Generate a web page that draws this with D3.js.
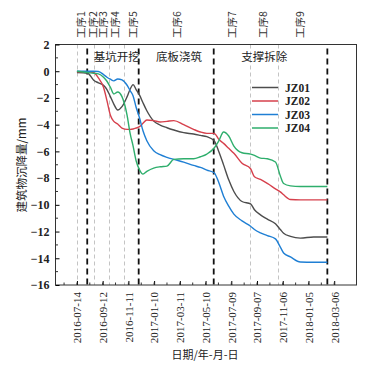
<!DOCTYPE html>
<html>
<head>
<meta charset="utf-8">
<script src="https://cdn.jsdelivr.net/npm/d3@7"></script>
<style>
    body { margin: 0; background: #fff; }
    svg text { font-family: "Liberation Serif", "Noto Sans CJK SC", serif; }
</style>
</head>
<body>
<div id="chart"></div>
<script>
// sample dates shared by the four monitoring points
var dates = ["2016-07-14", "2016-08-08", "2016-08-22", "2016-09-02", "2016-09-14", "2016-09-22",
    "2016-09-30", "2016-10-08", "2016-10-17", "2016-10-27", "2016-11-08", "2016-11-15",
    "2016-11-22", "2016-11-29", "2016-12-07", "2016-12-15", "2016-12-24", "2017-01-09",
    "2017-01-24", "2017-02-09", "2017-02-25", "2017-03-20", "2017-04-12", "2017-04-28",
    "2017-05-13", "2017-05-30", "2017-06-10", "2017-06-21", "2017-07-03", "2017-07-15",
    "2017-08-03", "2017-08-23", "2017-09-01", "2017-09-15", "2017-10-01", "2017-10-20",
    "2017-11-01", "2017-11-08", "2017-11-24", "2017-12-17", "2018-01-17", "2018-02-18"];

var jz01 = [-0.1, -0.15, -0.67, -0.87, -1.05, -1.37, -1.9, -2.46, -2.9, -2.65, -1.9, -1.35,
    -1.0, -1.37, -1.79, -2.36, -2.96, -3.73, -4.03, -4.23, -4.4, -4.6, -4.7, -4.8,
    -4.9, -5.2, -6.02, -7.01, -8.13, -9.0, -9.75, -9.93, -10.37, -10.75, -11.07, -11.42,
    -11.87, -12.12, -12.36, -12.49, -12.41, -12.41];
var jz02 = [-0.05, -0.05, -0.1, -0.5, -1.2, -2.2, -3.3, -3.75, -3.95, -4.25, -4.35, -4.35,
    -4.32, -4.25, -4.15, -3.9, -3.65, -3.7, -3.8, -3.75, -3.7, -4.0, -4.35, -4.55,
    -4.65, -4.65, -5.1, -5.4, -5.77, -6.14, -6.89, -7.3, -7.9, -8.1, -8.4, -8.8,
    -9.05, -9.25, -9.6, -9.63, -9.63, -9.63];
var jz03 = [0, 0, 0, -0.02, -0.25, -0.45, -0.6, -0.72, -0.58, -0.65, -1.05, -1.45,
    -1.85, -2.7, -3.5, -4.45, -5.2, -5.95, -6.25, -6.45, -6.6, -6.8, -7.05, -7.2,
    -7.4, -7.6, -8.35, -9.35, -10.1, -10.7, -11.2, -11.6, -11.85, -12.1, -12.3, -12.55,
    -13.2, -13.6, -13.9, -14.28, -14.3, -14.3];
var jz04 = [0, -0.1, -0.15, -0.2, -0.45, -0.75, -1.2, -1.7, -1.55, -1.9, -3.3, -4.65,
    -5.6, -6.7, -7.38, -7.7, -7.5, -7.25, -7.15, -7.1, -6.6, -6.55, -6.55, -6.4,
    -6.2, -5.75, -5.2, -4.55, -4.85, -5.6, -6.1, -6.2, -6.3, -6.5, -6.55, -6.8,
    -7.9, -8.4, -8.58, -8.63, -8.63, -8.63];

var seriesNames = ["JZ01", "JZ02", "JZ03", "JZ04"];
var seriesColors = ["#4d4d4d", "#d6404c", "#1f7fd4", "#2eae6c"];

// stage boundaries (heavy dashed) and process dates (light dashed)
var stageLines = ["2016-08-07", "2016-12-05", "2017-05-29", "2018-02-18"];
var processLines = ["2016-07-14", "2016-08-22", "2016-09-26", "2016-10-31", "2017-08-21", "2017-10-26"];
var stageNames = ["基坑开挖", "底板浇筑", "支撑拆除"];
var stageLabelDates = ["2016-10-15", "2017-03-09", "2017-09-24"];
var processNames = ["工序1", "工序2", "工序3", "工序4", "工序5", "工序6", "工序7", "工序8", "工序9"];
var processLabelDates = ["2016-07-24", "2016-08-21", "2016-09-13", "2016-10-11", "2016-11-22",
    "2017-03-05", "2017-07-12", "2017-09-22", "2017-12-17"];

var yTicks = [2, 0, -2, -4, -6, -8, -10, -12, -14, -16];

var width = 381, height = 368;
var margin = {left: 55.5, right: 24.5, top: 44.5, bottom: 83};
var parse = d3.utcParse("%Y-%m-%d");
var fmt = d3.utcFormat("%Y-%m-%d");

var svg = d3.select("#chart")
    .append("svg")
    .attr("width", width)
    .attr("height", height);

var x = d3.scaleUtc()
    .domain([parse("2016-05-25"), parse("2018-04-27")])
    .range([margin.left, width - margin.right]);
var y = d3.scaleLinear()
    .domain([-16, 2])
    .range([height - margin.bottom, margin.top]);

var x0 = parse("2016-07-14");
var majorTicks = d3.range(0, 11).map(function(i) { return d3.utcDay.offset(x0, i * 60); });
var minorTicks = d3.range(-1, 21).map(function(i) { return d3.utcDay.offset(x0, i * 30); });

// dashed guide lines
svg.selectAll(".proc")
    .data(processLines)
    .enter()
    .append("line")
    .attr("class", "proc")
    .attr("x1", function(d) { return Math.round(x(parse(d))) + 0.5; })
    .attr("x2", function(d) { return Math.round(x(parse(d))) + 0.5; })
    .attr("y1", y(2))
    .attr("y2", y(-16))
    .attr("stroke", "#c4c4c4")
    .attr("stroke-width", 1)
    .attr("stroke-dasharray", "4,3");

svg.selectAll(".stage")
    .data(stageLines)
    .enter()
    .append("line")
    .attr("class", "stage")
    .attr("x1", function(d) { return x(parse(d)); })
    .attr("x2", function(d) { return x(parse(d)); })
    .attr("y1", y(2) + 4)
    .attr("y2", y(-16))
    .attr("stroke", "#111")
    .attr("stroke-width", 1.8)
    .attr("stroke-dasharray", "6,4");

// curves
var line = d3.line()
    .x(function(d) { return x(d.date); })
    .y(function(d) { return y(d.value); })
    .curve(d3.curveMonotoneX);

var allSeries = [jz01, jz02, jz03, jz04].map(function(vals, i) {
    return {
        name: seriesNames[i],
        color: seriesColors[i],
        values: vals.map(function(v, j) { return {date: parse(dates[j]), value: v}; })
    };
});

svg.selectAll(".series")
    .data(allSeries)
    .enter()
    .append("path")
    .attr("class", "series")
    .attr("d", function(d) { return line(d.values); })
    .attr("fill", "none")
    .attr("stroke", function(d) { return d.color; })
    .attr("stroke-width", 1.4);

// axes box
svg.append("rect")
    .attr("x", margin.left)
    .attr("y", margin.top)
    .attr("width", width - margin.left - margin.right)
    .attr("height", height - margin.top - margin.bottom)
    .attr("fill", "none")
    .attr("stroke", "#333")
    .attr("stroke-width", 1);

var xAxis = svg.append("g")
    .attr("transform", "translate(0," + (height - margin.bottom) + ")")
    .call(d3.axisBottom(x).tickValues(majorTicks).tickFormat(fmt).tickSizeInner(-4).tickSizeOuter(0));
xAxis.select(".domain").remove();
xAxis.selectAll("text")
    .attr("transform", "rotate(-90)")
    .attr("text-anchor", "end")
    .attr("x", -7)
    .attr("y", 0)
    .attr("dy", "0.35em")
    .style("font-size", "11px")
    .attr("fill", "#222");
svg.append("g")
    .attr("transform", "translate(0," + (height - margin.bottom) + ")")
    .selectAll("line")
    .data(minorTicks)
    .enter()
    .append("line")
    .attr("x1", function(d) { return x(d); })
    .attr("x2", function(d) { return x(d); })
    .attr("y1", 0)
    .attr("y2", -2.5)
    .attr("stroke", "#333");

var yAxis = svg.append("g")
    .attr("transform", "translate(" + margin.left + ",0)")
    .call(d3.axisLeft(y).tickValues(yTicks).tickSizeInner(-4).tickSizeOuter(0)
        .tickFormat(function(d) { return d < 0 ? "\u2212" + Math.abs(d) : d; }));
yAxis.select(".domain").remove();
yAxis.selectAll("text")
    .attr("x", -6)
    .style("font-size", "12px")
    .style("font-weight", "bold")
    .attr("fill", "#222");
svg.append("g")
    .selectAll("line")
    .data(d3.range(-15, 2, 2))
    .enter()
    .append("line")
    .attr("x1", margin.left)
    .attr("x2", margin.left + 2.5)
    .attr("y1", function(d) { return y(d); })
    .attr("y2", function(d) { return y(d); })
    .attr("stroke", "#333");

// stage and process labels
svg.selectAll(".stageName")
    .data(stageNames)
    .enter()
    .append("text")
    .attr("class", "stageName")
    .attr("x", function(d, i) { return x(parse(stageLabelDates[i])); })
    .attr("y", 61)
    .attr("text-anchor", "middle")
    .style("font-family", "'Noto Sans CJK SC', sans-serif")
    .style("font-size", "11.5px")
    .attr("fill", "#222")
    .text(function(d) { return d; });

svg.selectAll(".procName")
    .data(processNames)
    .enter()
    .append("text")
    .attr("class", "procName")
    .attr("transform", function(d, i) {
        return "translate(" + x(parse(processLabelDates[i])) + ",38) rotate(-90)";
    })
    .attr("dy", "0.35em")
    .style("font-family", "'Noto Sans CJK SC', sans-serif")
    .style("font-size", "10.5px")
    .attr("fill", "#333")
    .text(function(d) { return d; });

// legend
var legend = svg.selectAll(".legend")
    .data(allSeries)
    .enter()
    .append("g")
    .attr("class", "legend")
    .attr("transform", function(d, i) { return "translate(252," + (87.5 + i * 13.5) + ")"; });
legend.append("line")
    .attr("x1", 0)
    .attr("x2", 26)
    .attr("stroke", function(d) { return d.color; })
    .attr("stroke-width", 1.5);
legend.append("text")
    .attr("x", 33)
    .attr("dy", "0.35em")
    .style("font-size", "11.5px")
    .style("font-weight", "bold")
    .attr("fill", "#222")
    .text(function(d) { return d.name; });

// axis titles
svg.append("text")
    .attr("x", 205)
    .attr("y", 359)
    .attr("text-anchor", "middle")
    .style("font-family", "'Noto Sans CJK SC', sans-serif")
    .style("font-size", "11px")
    .attr("fill", "#222")
    .text("日期/年-月-日");

svg.append("text")
    .attr("transform", "translate(22,165) rotate(-90)")
    .attr("text-anchor", "middle")
    .attr("dy", "0.35em")
    .style("font-family", "'Noto Sans CJK SC', sans-serif")
    .style("font-size", "11.5px")
    .attr("fill", "#222")
    .text("建筑物沉降量/mm");
</script>
</body>
</html>
